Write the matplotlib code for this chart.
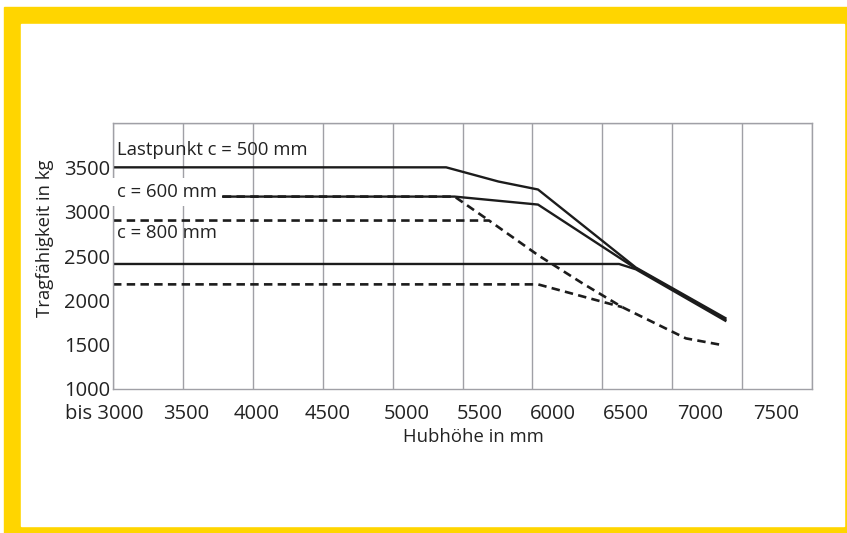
import matplotlib
matplotlib.use("Agg")
import matplotlib.pyplot as plt
from matplotlib.patches import Rectangle

plt.rcParams['font.family'] = ['Open Sans', 'DejaVu Sans']

# Tragfähigkeit (kg) über Hubhöhe (mm)
# solid lines
x_500 = [3000, 5383, 5757, 6040, 6740, 7380]
y_500 = [3500, 3500, 3340, 3250, 2370, 1800]
x_600 = [3000, 5443, 6040, 6720, 7380]
y_600 = [3170, 3170, 3080, 2380, 1785]
x_800 = [3000, 6620, 6740, 7380]
y_800 = [2410, 2410, 2350, 1770]

# dashed lines (they merge into the middle one)
xd_600 = [3000, 5443, 5690]
yd_600 = [3170, 3170, 2900]
xd_800a = [3000, 5690, 6040, 6360, 6643, 7098, 7359]
yd_800a = [2900, 2900, 2510, 2190, 1923, 1571, 1495]
xd_800b = [3000, 6040, 6643]
yd_800b = [2180, 2180, 1923]

grid_x = [3000, 3500, 4000, 4500, 5000, 5500, 6000, 6500, 7000, 7500, 8000]
y_ticks = [1000, 1500, 2000, 2500, 3000, 3500]
# label positions drift right of the grid in the original
x_label_pos = [2936, 3521, 4029, 4536, 5100, 5621, 6150, 6671, 7200, 7743]
x_label_txt = ["bis 3000", "3500", "4000", "4500", "5000", "5500",
               "6000", "6500", "7000", "7500"]

ink = "#1c1c1c"
gridc = "#a0a0a6"
yellow = "#FFD500"
txtc = "#222222"

fig = plt.figure(figsize=(8.47, 5.33), dpi=100)

# yellow frame
fig.add_artist(Rectangle((4 / 847, 0), 1, 1 - 7 / 533,
                         transform=fig.transFigure, color=yellow, zorder=-20))
fig.add_artist(Rectangle((21 / 847, 7 / 533), 823 / 847, 502 / 533,
                         transform=fig.transFigure, color="white", zorder=-19))

ax = fig.add_axes([113 / 847, 1 - 389 / 533, 699 / 847, 266 / 533])
ax.set_facecolor("none")

ax.plot(x_500, y_500, color=ink, lw=1.7)
ax.plot(x_600, y_600, color=ink, lw=1.7)
ax.plot(x_800, y_800, color=ink, lw=1.7)
dash = (0, (3.2, 2.0))
ax.plot(xd_600, yd_600, color=ink, lw=1.9, linestyle=dash)
ax.plot(xd_800a, yd_800a, color=ink, lw=1.9, linestyle=dash)
ax.plot(xd_800b, yd_800b, color=ink, lw=1.9, linestyle=dash)

ax.set_xticks(grid_x, minor=True)
ax.set_xticks(x_label_pos[1:])
ax.set_xticklabels(x_label_txt[1:])
ax.set_yticks(y_ticks + [4000], minor=True)
ax.set_yticks(y_ticks)
ax.set_xlim(3000, 8000)
ax.set_ylim(1000, 4000)
ax.grid(which="minor", color=gridc, lw=1.0)
ax.grid(which="major", visible=False)
ax.tick_params(which="both", length=0)
ax.tick_params(axis="x", pad=11, labelsize=14.5, colors=txtc)
ax.tick_params(axis="y", pad=2, labelsize=14.5, colors=txtc)
for s in ax.spines.values():
    s.set_color(gridc)
    s.set_linewidth(1.0)

# first label sits left of the axis range
ax.annotate(x_label_txt[0], xy=(x_label_pos[0], 0),
            xycoords=("data", "axes fraction"), xytext=(0, -11),
            textcoords="offset points", ha="center", va="top",
            fontsize=14.5, color=txtc, annotation_clip=False)

ax.set_xlabel("Hubhöhe in mm", fontsize=13.3, color=txtc)
ax.xaxis.set_label_coords(0.515, -0.18)
ax.xaxis.label.set_va("center")
ax.set_ylabel("Tragfähigkeit in kg", fontsize=13.3, color=txtc)
ax.yaxis.set_label_coords(-0.097, 0.568)
ax.yaxis.label.set_va("center")

ax.text(3029, 3691, "Lastpunkt c = 500 mm", fontsize=13.3, color=txtc,
        va="center", ha="left")
ax.text(3029, 3222, "c = 600 mm", fontsize=13.3, color=txtc,
        va="center", ha="left",
        bbox=dict(boxstyle="square,pad=0.25", fc="white", ec="none"))
ax.text(3029, 2757, "c = 800 mm", fontsize=13.3, color=txtc,
        va="center", ha="left")

fig.savefig("out.png", dpi=100)
